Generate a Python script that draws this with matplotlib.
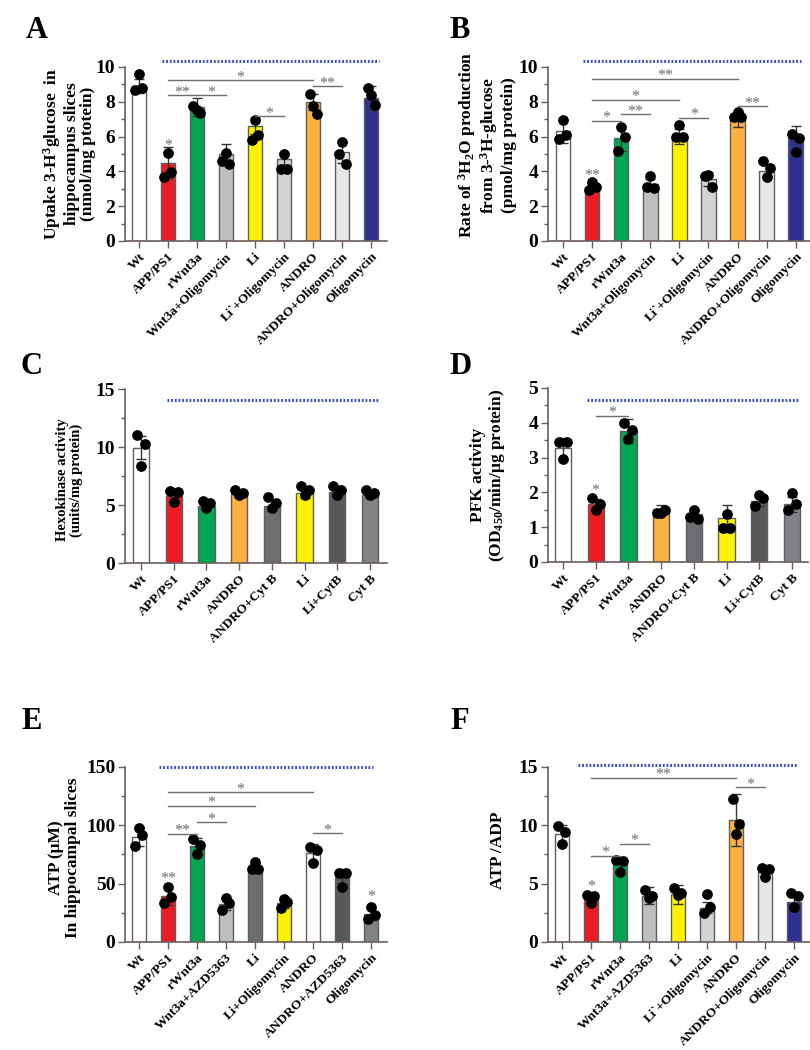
import numpy as np
import matplotlib
matplotlib.use("Agg")
import matplotlib.pyplot as plt

plt.rcParams['font.family'] = ['Liberation Serif', 'DejaVu Serif']
plt.rcParams['font.weight'] = 'bold'
plt.rcParams['mathtext.fontset'] = 'custom'
plt.rcParams['mathtext.rm'] = 'Liberation Serif:bold'
plt.rcParams['mathtext.it'] = 'Liberation Serif:bold'
plt.rcParams['mathtext.bf'] = 'Liberation Serif:bold'

# ---- colours used in the figure
WHITE = '#ffffff'
RED = '#ec1c24'
GREEN = '#00a651'
GREY = '#bcbec0'
YELLOW = '#fff200'
LGREY = '#d1d3d4'
ORANGE = '#fbb040'
VLGREY = '#e6e7e8'
NAVY = '#2e3192'
DGREY = '#6d6e71'
DDGREY = '#58595b'
MGREY = '#808285'

# ---- panel A: 3-H3 glucose uptake
labels_A = ['Wt', 'APP/PS1', 'rWnt3a', 'Wnt3a+Oligomycin', 'Li', 'Li`+Oligomycin',
            'ANDRO', 'ANDRO+Oligomycin', 'Oligomycin']
means_A = [8.9, 4.5, 7.7, 5.0, 6.6, 4.7, 8.0, 5.1, 8.2]
errs_A = [0.4, 0.9, 0.5, 0.55, 0.45, 0.35, 0.45, 0.6, 0.7]
points_A = [[8.7, 9.58, 8.8], [3.7, 5.06, 3.97], [7.74, 7.5, 7.35], [4.6, 5.06, 4.4],
            [5.82, 6.97, 6.07], [4.15, 4.98, 4.15], [8.47, 7.74, 7.28], [5.0, 5.69, 4.4],
            [8.81, 8.37, 7.83]]
colors_A = [WHITE, RED, GREEN, GREY, YELLOW, LGREY, ORANGE, VLGREY, NAVY]

# ---- panel B: 3H2O production
labels_B = ['Wt', 'APP/PS1', 'rWnt3a', 'Wnt3a+Oligomycin', 'Li', 'Li`+Oligomycin',
            'ANDRO', 'ANDRO+Oligomycin', 'Oligomycin']
means_B = [6.3, 3.1, 5.9, 3.3, 6.0, 3.55, 7.0, 4.0, 5.9]
errs_B = [0.65, 0.2, 0.7, 0.25, 0.45, 0.4, 0.45, 0.35, 0.7]
points_B = [[5.88, 6.97, 6.1], [2.95, 3.39, 3.1], [5.17, 6.55, 5.98], [3.1, 3.72, 3.07],
            [5.98, 6.65, 5.98], [3.72, 3.77, 3.1], [7.1, 7.4, 7.1], [4.6, 3.7, 4.2],
            [6.15, 5.1, 5.9]]
colors_B = colors_A

# ---- panel C: hexokinase activity
labels_C = ['Wt', 'APP/PS1', 'rWnt3a', 'ANDRO', 'ANDRO+Cyt B', 'Li', 'Li+CytB', 'Cyt B']
means_C = [9.95, 5.8, 4.95, 5.95, 4.95, 6.05, 6.15, 5.85]
errs_C = [1.0, 0.5, 0.3, 0.25, 0.5, 0.45, 0.45, 0.25]
points_C = [[11.06, 8.4, 10.3], [6.2, 5.3, 6.1], [5.37, 4.7, 5.2], [6.3, 5.85, 6.0],
            [5.65, 4.75, 5.2], [6.6, 5.85, 6.3], [6.65, 5.9, 6.3], [6.3, 5.85, 6.0]]
colors_C = [WHITE, RED, GREEN, ORANGE, DGREY, YELLOW, DDGREY, MGREY]

# ---- panel D: PFK activity
labels_D = ['Wt', 'APP/PS1', 'rWnt3a', 'ANDRO', 'ANDRO+Cyt B', 'Li', 'Li+CytB', 'Cyt B']
means_D = [3.27, 1.66, 3.77, 1.52, 1.38, 1.25, 1.76, 1.66]
errs_D = [0.3, 0.15, 0.35, 0.12, 0.12, 0.4, 0.15, 0.22]
points_D = [[3.46, 2.96, 3.46], [1.83, 1.49, 1.66], [4.0, 3.53, 3.78], [1.41, 1.41, 1.5],
            [1.3, 1.49, 1.23], [0.99, 1.39, 0.99], [1.6, 1.92, 1.83], [1.49, 1.99, 1.66]]
colors_D = colors_C

# ---- panel E: ATP
labels_E = ['Wt', 'APP/PS1', 'rWnt3a', 'Wnt3a+AZD5363', 'Li', 'Li+Oligomycin',
            'ANDRO', 'ANDRO+AZD5363', 'Oligomycin']
means_E = [90.3, 39.6, 82.3, 32.4, 63.1, 33.0, 76.6, 55.3, 23.8]
errs_E = [8.0, 8.0, 6.5, 5.0, 4.0, 4.0, 7.5, 7.0, 5.0]
points_E = [[82.3, 98.0, 91.8], [33.5, 47.3, 38.1], [88.0, 75.4, 83.2], [27.8, 37.3, 33.8],
            [62.2, 68.8, 62.2], [28.7, 36.4, 34.4], [81.7, 68.0, 78.9], [59.4, 47.3, 59.4],
            [20.0, 30.1, 22.9]]
colors_E = [WHITE, RED, GREEN, GREY, DGREY, YELLOW, WHITE, DDGREY, MGREY]

# ---- panel F: ATP/ADP
labels_F = ['Wt', 'APP/PS1', 'rWnt3a', 'Wnt3a+AZD5363', 'Li', 'Li`+Oligomycin',
            'ANDRO', 'ANDRO+Oligomycin', 'Oligomycin']
means_F = [9.23, 3.73, 6.65, 3.96, 4.07, 2.95, 10.44, 5.97, 3.44]
errs_F = [0.75, 0.35, 0.65, 0.75, 0.85, 0.5, 2.2, 0.35, 0.8]
points_F = [[9.95, 8.4, 9.38], [4.0, 3.3, 3.93], [7.0, 5.97, 6.93], [4.45, 3.8, 3.96],
            [4.65, 4.0, 4.16], [2.44, 4.07, 3.0], [12.25, 9.26, 10.1], [6.36, 5.6, 6.22],
            [4.16, 3.0, 3.93]]
colors_F = colors_A

JITTER = [-0.12, 0.0, 0.12]
SPINE = '#6b5e5e'
SIG = '#6d6e71'


def sig_text(ax, x, y, s):
    # asterisks sit just above the given height
    ax.annotate(s, (x, y), xytext=(0, -1), textcoords='offset points', ha='center',
                va='baseline', fontsize=11.5, color=SIG, fontweight='normal',
                annotation_clip=False)


def draw_panel(rect, labels, means, errs, points, colors, ylim, major, minor,
               xlim, ylabel, ylab_xy, ylab_size, blue, stars=(), brackets=()):
    ax = fig.add_axes(rect)
    x = np.arange(len(labels))
    ax.bar(x, means, width=0.5, color=colors, edgecolor='#5e5e5e', linewidth=1.0, zorder=2)
    ax.errorbar(x, means, yerr=errs, fmt='none', ecolor='#333333', elinewidth=1.0,
                capsize=3.5, capthick=1.0, zorder=3)
    for i, pts in enumerate(points):
        ax.scatter(x[i] + np.array(JITTER[:len(pts)]), pts, s=45, color='black', zorder=4,
                   clip_on=False)
    ax.set_xlim(*xlim)
    ax.set_ylim(*ylim)
    ax.set_yticks(np.arange(ylim[0], ylim[1] + 1e-9, major))
    ax.set_yticks(np.arange(ylim[0], ylim[1] + 1e-9, minor), minor=True)
    ax.set_xticks(x)
    ax.set_xticklabels(labels, rotation=45, ha='right', rotation_mode='anchor',
                       fontsize=9.7, fontweight='bold')
    for t in ax.get_yticklabels():
        t.set_fontsize(14)
        t.set_fontweight('bold')
    ax.tick_params(axis='both', which='major', length=5, width=1.0, color=SPINE, pad=2)
    ax.tick_params(axis='y', which='minor', length=3, width=1.0, color=SPINE)
    for side in ['top', 'right']:
        ax.spines[side].set_visible(False)
    for side in ['left', 'bottom']:
        ax.spines[side].set_color(SPINE)
        ax.spines[side].set_linewidth(1.2)
    ax.text(ylab_xy[0], ylab_xy[1], ylabel, transform=ax.transAxes, rotation=90,
            ha='center', va='center', fontsize=ylab_size, fontweight='bold',
            multialignment='center', linespacing=1.05)
    # blue dotted line across treated groups
    ax.plot([blue[0], blue[1]], [blue[2], blue[2]], color='#3c50c8', lw=2.2,
            dashes=(0.6, 0.6), clip_on=False, zorder=5)
    for i, y, s in stars:
        sig_text(ax, x[i], y, s)
    for i, j, y, s in brackets:
        ax.plot([x[i], x[j]], [y, y], color=SIG, lw=1.0, zorder=5, clip_on=False)
        sig_text(ax, (x[i] + x[j]) / 2, y, s)
    return ax


fig = plt.figure(figsize=(8.1, 10.5), dpi=100)

draw_panel([0.1543, 0.7705, 0.3235, 0.1657], labels_A, means_A, errs_A, points_A, colors_A,
           (0, 10), 2, 1, (-0.48, 8.55),
           'Uptake 3-H$^{3}$glucose  in\nhippocampus slices\n(nmol/mg ptotein)',
           (-0.215, 0.5), 12.5, (0.8, 8.28, 10.34),
           stars=[(1, 5.3, '*')],
           brackets=[(1, 2, 8.37, '**'), (2, 3, 8.37, '*'), (4, 5, 7.16, '*'),
                     (1, 6, 9.23, '*'), (6, 7, 8.9, '**')])

draw_panel([0.6765, 0.7705, 0.3235, 0.1657], labels_B, means_B, errs_B, points_B, colors_B,
           (0, 10), 2, 1, (-0.515, 8.49),
           'Rate of $^{3}$H$_{2}$O production\nfrom 3-$^{3}$H-glucose\n(pmol/mg protein)',
           (-0.235, 0.55), 12.5, (0.69, 8.18, 10.34),
           stars=[(1, 3.6, '**')],
           brackets=[(1, 2, 6.9, '*'), (2, 3, 7.28, '**'), (1, 4, 8.12, '*'),
                     (4, 5, 7.07, '*'), (1, 6, 9.33, '**'), (6, 7, 7.74, '**')])

draw_panel([0.1543, 0.4638, 0.3235, 0.1657], labels_C, means_C, errs_C, points_C, colors_C,
           (0, 15), 5, 2.5, (-0.49, 7.52),
           'Hexokinase activity\n(units/mg protein)',
           (-0.21, 0.477), 10.5, (0.8, 7.28, 14.05))

draw_panel([0.6765, 0.4648, 0.321, 0.1657], labels_D, means_D, errs_D, points_D, colors_D,
           (0, 5), 1, 0.5, (-0.46, 7.49),
           'PFK activity\n(OD$_{450}$/min/μg protein)',
           (-0.23, 0.5), 12.5, (0.73, 7.19, 4.66),
           stars=[(1, 1.95, '*')],
           brackets=[(1, 2, 4.2, '*')])

draw_panel([0.1543, 0.1029, 0.3235, 0.1667], labels_E, means_E, errs_E, points_E, colors_E,
           (0, 150), 50, 25, (-0.48, 8.55),
           'ATP (μM)\nIn hippocampal slices',
           (-0.23, 0.48), 12.5, (0.69, 8.07, 150),
           stars=[(1, 52, '**'), (8, 36, '*')],
           brackets=[(1, 2, 92.6, '**'), (2, 3, 102.4, '*'), (1, 4, 116.7, '*'),
                     (1, 6, 128.1, '*'), (6, 7, 93.2, '*')])

draw_panel([0.6765, 0.1029, 0.3235, 0.1667], labels_F, means_F, errs_F, points_F, colors_F,
           (0, 15), 5, 2.5, (-0.48, 8.55),
           'ATP /ADP',
           (-0.19, 0.526), 12.5, (0.55, 8.1, 15.17),
           stars=[(1, 4.5, '*')],
           brackets=[(1, 2, 7.4, '*'), (2, 3, 8.4, '*'), (1, 6, 14.05, '**'),
                     (6, 7, 13.25, '*')])

# panel letters
for letter, xx, yy in [('A', 0.0457, 0.9714), ('B', 0.568, 0.9714),
                       ('C', 0.0395, 0.6514), ('D', 0.569, 0.6514),
                       ('E', 0.0395, 0.3133), ('F', 0.567, 0.3133)]:
    fig.text(xx, yy, letter, ha='center', va='center', fontsize=22, fontweight='bold')

fig.savefig('out.png', dpi=100)
